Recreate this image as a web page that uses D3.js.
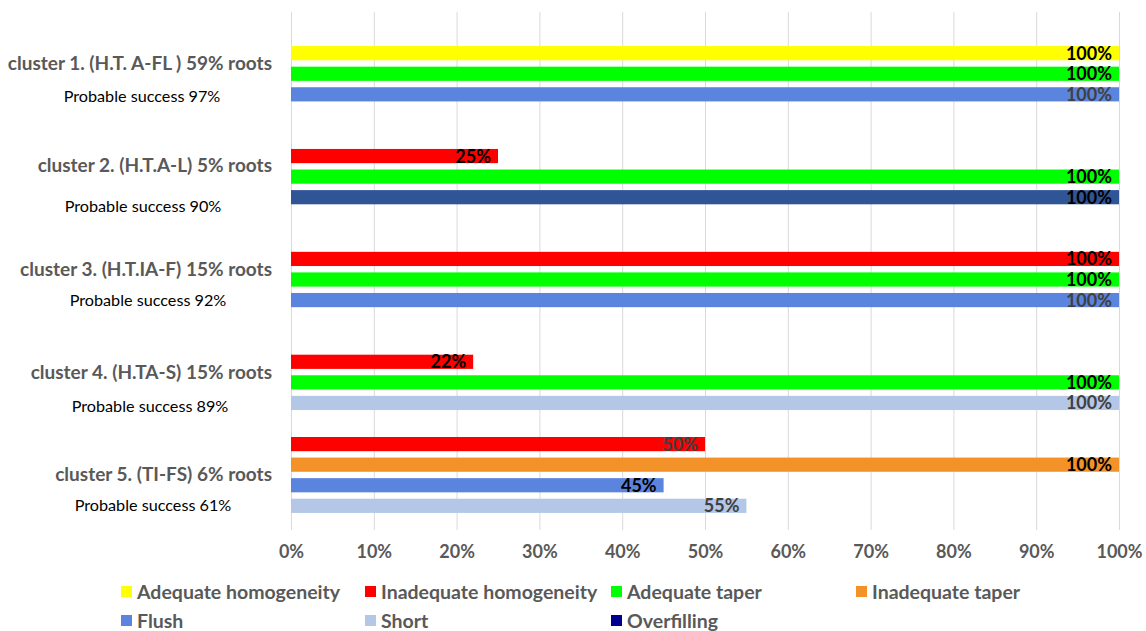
<!DOCTYPE html>
<html>
<head>
<meta charset="utf-8">
<script src="https://cdn.jsdelivr.net/npm/d3@7"></script>
<style>
  html, body { margin: 0; padding: 0; background: #fff; }
  svg { display: block; }
  text { font-family: Lato, "Open Sans", "Noto Sans", sans-serif; }
</style>
</head>
<body>
<svg id="chart" width="1146" height="631"></svg>
<script>
// ---- data ----
const clusterLabels = [
  "cluster 1. (H.T. A-FL ) 59% roots",
  "cluster 2. (H.T.A-L) 5% roots",
  "cluster 3. (H.T.IA-F) 15% roots",
  "cluster 4. (H.TA-S) 15% roots",
  "cluster 5. (TI-FS) 6% roots"
];
const probableSuccess = [97, 90, 92, 89, 61];

const seriesNames = [
  "Adequate homogeneity", "Inadequate homogeneity", "Adequate taper",
  "Inadequate taper", "Flush", "Short", "Overfilling"
];
// percentage per cluster (null = not present)
const adequateHomogeneity   = [100, null, null, null, null];
const inadequateHomogeneity = [null, 25, 100, 22, 50];
const adequateTaper         = [100, 100, 100, 100, null];
const inadequateTaper       = [null, null, null, null, 100];
const flush                 = [100, null, 100, null, 45];
const short                 = [null, null, null, 100, 55];
const overfilling           = [null, 100, null, null, null];
const seriesValues = [adequateHomogeneity, inadequateHomogeneity, adequateTaper,
                      inadequateTaper, flush, short, overfilling];

const tickValues = [0, 10, 20, 30, 40, 50, 60, 70, 80, 90, 100];

// ---- styles ----
const seriesColors = {
  "Adequate homogeneity": "#FFFF00",
  "Inadequate homogeneity": "#FF0000",
  "Adequate taper": "#00FF00",
  "Inadequate taper": "#F39229",
  "Flush": "#5B84DF",
  "Short": "#B4C7E7",
  "Overfilling": "#000090"
};
// the overfilling bar of cluster 2 is drawn in a lighter navy
const barColorOverride = { "1|Overfilling": "#2F5597" };
// value labels drawn in dark grey rather than black
const greyLabels = new Set(["0|Flush", "2|Flush", "3|Short", "4|Inadequate homogeneity", "4|Short"]);
// empty bar slots before each cluster
const gapBefore = [0, 2, 2, 2, 1];
// offsets of the two label lines from the cluster centre
const titleDy = [-11, -11, -10, -10, -1];
const successDy = [22, 30, 21, 24, 30];
const successX = [142, 143, 148, 150, 153];

// ---- layout ----
const svg = d3.select("#chart");
const plot = { left: 291, right: 1119, top: 12, bottom: 530 };

// build bar rows with slot indices
const bars = [];
let slot = 0;
clusterLabels.forEach((c, ci) => {
  slot += gapBefore[ci];
  seriesNames.forEach((s, si) => {
    const v = seriesValues[si][ci];
    if (v !== null) bars.push({ cluster: ci, series: s, value: v, slot: slot++ });
  });
});
const nSlots = slot;

const x = d3.scaleLinear().domain([0, 100]).range([plot.left, plot.right]);
const y = d3.scaleBand().domain(d3.range(nSlots))
  .range([43, 516]).paddingInner(0.31).paddingOuter(0.15);

// gridlines
svg.append("g").selectAll("line").data(tickValues).join("line")
  .attr("x1", d => x(d) + 0.5).attr("x2", d => x(d) + 0.5)
  .attr("y1", plot.top).attr("y2", plot.bottom)
  .attr("stroke", "#D9D9D9").attr("stroke-width", 1);

// x axis labels
const xAxis = d3.axisBottom(x).tickValues(tickValues).tickSize(0).tickPadding(0)
  .tickFormat(d => d + "%");
const ax = svg.append("g").attr("transform", `translate(0,${plot.bottom})`).call(xAxis);
ax.select(".domain").remove();
ax.selectAll("text")
  .attr("y", 28).attr("dy", 0)
  .attr("fill", "#595959").attr("font-size", 18).attr("font-weight", 700)
  .style("font-family", "Lato, 'Open Sans', sans-serif");

// bars
svg.append("g").selectAll("rect").data(bars).join("rect")
  .attr("x", x(0))
  .attr("y", d => y(d.slot))
  .attr("width", d => x(d.value) - x(0))
  .attr("height", y.bandwidth())
  .attr("fill", d => barColorOverride[d.cluster + "|" + d.series] || seriesColors[d.series]);

// value labels (inside end)
svg.append("g").selectAll("text").data(bars).join("text")
  .attr("x", d => x(d.value) - 7)
  .attr("y", d => y(d.slot) + y.bandwidth() / 2)
  .attr("dy", "0.36em")
  .attr("text-anchor", "end")
  .attr("font-size", 18).attr("font-weight", 700)
  .attr("fill", d => greyLabels.has(d.cluster + "|" + d.series) ? "#404040" : "#000")
  .text(d => d.value + "%");

// category labels
const clusterCenters = clusterLabels.map((c, ci) => {
  const s = bars.filter(b => b.cluster === ci).map(b => y(b.slot) + y.bandwidth() / 2);
  return (d3.min(s) + d3.max(s)) / 2;
});
const cat = svg.append("g");
cat.selectAll("text.title").data(clusterLabels).join("text")
  .attr("class", "title")
  .attr("x", 272)
  .attr("y", (d, i) => clusterCenters[i] + titleDy[i])
  .attr("dy", "0.36em")
  .attr("text-anchor", "end")
  .attr("font-size", 19).attr("font-weight", 700).attr("fill", "#595959")
  .text(d => d);
cat.selectAll("text.success").data(probableSuccess).join("text")
  .attr("class", "success")
  .attr("x", (d, i) => successX[i])
  .attr("y", (d, i) => clusterCenters[i] + successDy[i])
  .attr("dy", "0.36em")
  .attr("text-anchor", "middle")
  .attr("font-size", 16.2).attr("fill", "#000")
  .text(d => "Probable success " + d + "%");

// legend: first row four homogeneity/taper entries, second row Flush, Short, Overfilling
const legendCols = [121, 365, 611, 856];
const legendRows = [592, 621];
const legendItems = seriesNames.map((s, i) => ({
  name: s,
  col: i < 4 ? i : i - 4,
  row: i < 4 ? 0 : 1
}));
const lg = svg.append("g").selectAll("g").data(legendItems).join("g")
  .attr("transform", d => `translate(${legendCols[d.col]},${legendRows[d.row]})`);
lg.append("rect").attr("x", 0).attr("y", -6).attr("width", 11).attr("height", 11)
  .attr("fill", d => seriesColors[d.name]);
lg.append("text").attr("x", 16).attr("y", 0).attr("dy", "0.36em")
  .attr("font-size", 19.5).attr("font-weight", 700).attr("fill", "#595959")
  .text(d => d.name);
</script>
</body>
</html>
